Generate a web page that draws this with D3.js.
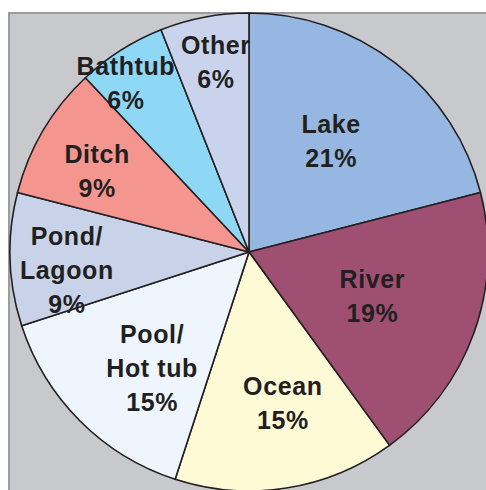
<!DOCTYPE html>
<html>
<head>
<meta charset="utf-8">
<script src="https://cdn.jsdelivr.net/npm/d3@7"></script>
<style>
  html, body { margin: 0; padding: 0; background: #ffffff; }
  svg { display: block; }
</style>
</head>
<body>
<svg id="chart" width="486" height="490"></svg>
<script>
// ---- data ----
const categories = ["Lake", "River", "Ocean", "Pool/\nHot tub", "Pond/\nLagoon", "Ditch", "Bathtub", "Other"];
const values = [21, 19, 15, 15, 9, 9, 6, 6];
const colors = ["#95b7e1", "#9f4f72", "#fffad6", "#eef5fd", "#c8d3ea", "#f4968f", "#8ed7f5", "#c9d3ec"];

// ---- layout (label placement, not data) ----
const labelRadius = [138, 131, 155, 151, 183, 172, 209, 193];
const labelAngleNudge = [-1.3, -0.1, -3.6, -5.1, -3.8, -2.6, -3.7, 0.9]; // degrees

const svg = d3.select("#chart");
const W = 486, H = 490;
const cx = 249, cy = 252, R = 239;

// plot area background
svg.append("rect").attr("x", 8).attr("y", 12).attr("width", W).attr("height", H)
  .attr("fill", "#c8c9cd");
svg.append("line").attr("x1", 8).attr("x2", W).attr("y1", 13).attr("y2", 13)
  .attr("stroke", "#9b9c9f").attr("stroke-width", 2);
svg.append("line").attr("x1", 9).attr("x2", 9).attr("y1", 12).attr("y2", H)
  .attr("stroke", "#9b9c9f").attr("stroke-width", 2);

const data = categories.map((c, i) => ({ name: c, value: values[i], color: colors[i], i }));
const pie = d3.pie().value(d => d.value).sort(null);
const arcs = pie(data);
const arc = d3.arc().innerRadius(0).outerRadius(R);

const g = svg.append("g").attr("transform", `translate(${cx},${cy})`);
g.selectAll("path.slice").data(arcs).enter().append("path")
  .attr("class", "slice")
  .attr("d", arc)
  .attr("fill", d => d.data.color)
  .attr("stroke", "#231f20")
  .attr("stroke-width", 1.6)
  .attr("stroke-linejoin", "round");

const fontSize = 25, lineH = 34;
g.selectAll("text.lbl").data(arcs).enter().append("text")
  .attr("class", "lbl")
  .attr("text-anchor", "middle")
  .attr("font-family", "'Liberation Sans', Arial, sans-serif")
  .attr("font-weight", "bold")
  .attr("font-size", fontSize)
  .attr("letter-spacing", 0.6)
  .attr("fill", "#231f20")
  .each(function(d) {
    const i = d.data.i;
    const mid = (d.startAngle + d.endAngle) / 2 + labelAngleNudge[i] * Math.PI / 180;
    const r = labelRadius[i];
    const x = r * Math.sin(mid), y = -r * Math.cos(mid);
    const lines = d.data.name.split("\n").concat([d.data.value + "%"]);
    const capH = fontSize * 0.716;
    const blockH = capH + (lines.length - 1) * lineH;
    const firstBaseline = y - blockH / 2 + capH;
    const t = d3.select(this);
    lines.forEach((ln, k) => {
      t.append("tspan").attr("x", x).attr("y", firstBaseline + k * lineH).text(ln);
    });
  });
</script>
</body>
</html>
